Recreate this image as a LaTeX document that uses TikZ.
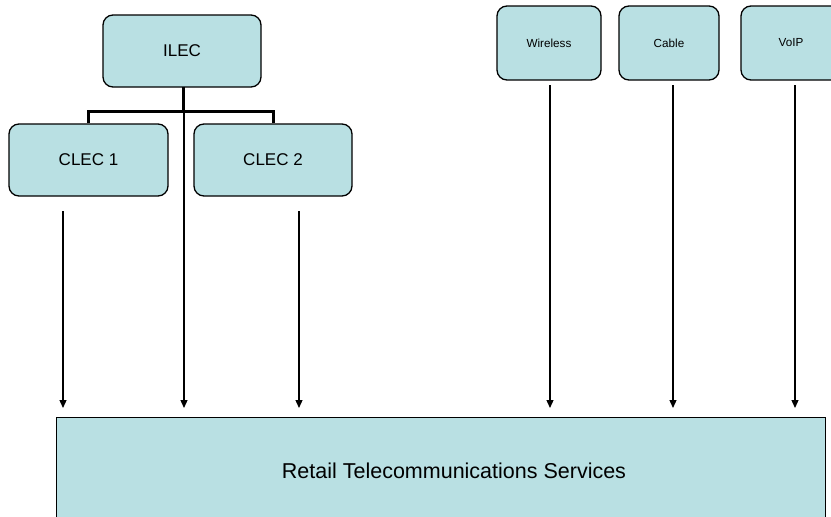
\documentclass[tikz,border=0pt]{standalone}
\usepackage{fontspec}
\setmainfont{Liberation Sans}
\usetikzlibrary{arrows.meta}
\definecolor{boxfill}{RGB}{185,224,227}
\tikzset{
  orgbox/.style={draw=black, line width=1.3pt, fill=boxfill, rounded corners=10pt,
    inner sep=0pt, anchor=center},
  bigfont/.style={font=\fontsize{17}{20}\selectfont},
  smallfont/.style={font=\fontsize{11.7}{14}\selectfont},
  tree/.style={draw=black, line width=3pt},
  feed/.style={draw=black, line width=1.3pt, -{Triangle[length=8pt,width=7pt]}},
}
\begin{document}
\begin{tikzpicture}[x=1pt,y=-1pt]
\useasboundingbox (0,0) rectangle (831,517);
\clip (0,0) rectangle (831,517);
% boxes
\node[orgbox, bigfont, minimum width=158pt, minimum height=72pt] (ilec) at (182,51) {ILEC};
\node[orgbox, bigfont, minimum width=159pt, minimum height=72pt] (clec1) at (88.5,160) {CLEC 1};
\node[orgbox, bigfont, minimum width=158pt, minimum height=72pt] (clec2) at (273,160) {CLEC 2};
\node[orgbox, smallfont, minimum width=104pt, minimum height=74pt] (wireless) at (549,43) {Wireless};
\node[orgbox, smallfont, minimum width=100pt, minimum height=74pt] (cable) at (669,43) {Cable};
\node[orgbox, smallfont, minimum width=100pt, minimum height=74pt] (voip) at (791,43) {VoIP};
\node[draw=black, line width=1.3pt, fill=boxfill, inner sep=0pt, anchor=north west,
  minimum width=769pt, minimum height=130pt] (retail) at (56,417) {};
\node[font=\fontsize{21.5}{25}\selectfont, inner sep=0pt] (retailtxt) at (454,471) {Retail Telecommunications Services};
% tree
\coordinate (bus) at (183,111);
\coordinate (ilecb) at (183,87);
\draw[tree] (ilecb) -- (bus);
\draw[tree] (clec1.north) |- (bus) -| (clec2.north);
% feed arrows
\coordinate (s1) at (63,211);   \coordinate (e1) at (63,408);
\coordinate (s2) at (184,87);   \coordinate (e2) at (184,408);
\coordinate (s3) at (299,211);  \coordinate (e3) at (299,408);
\coordinate (s4) at (550,85);   \coordinate (e4) at (550,408);
\coordinate (s5) at (673,85);   \coordinate (e5) at (673,408);
\coordinate (s6) at (795,85);   \coordinate (e6) at (795,408);
\foreach \i in {1,...,6} { \draw[feed] (s\i) -- (e\i); }
\end{tikzpicture}
\end{document}
